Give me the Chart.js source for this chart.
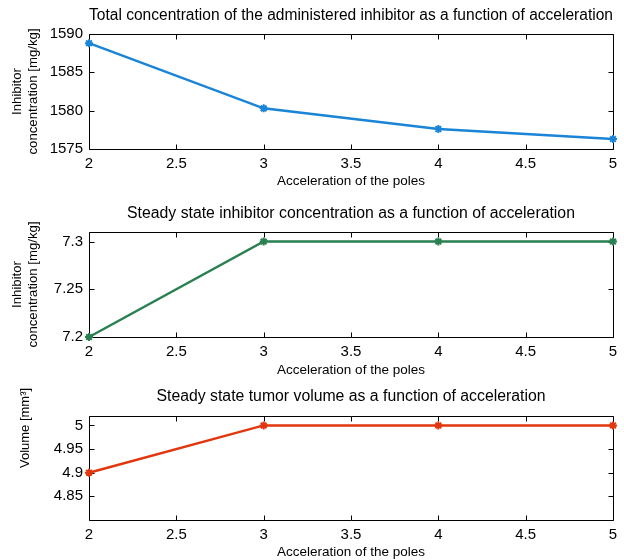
<!DOCTYPE html>
<html>
<head>
<meta charset="utf-8">
<script src="https://cdn.jsdelivr.net/npm/chart.js@4.4.1/dist/chart.umd.min.js"></script>
<style>
  html, body { margin: 0; padding: 0; background: #fff; }
  body { width: 624px; height: 560px; position: relative; overflow: hidden; }
  .wrap { position: absolute; left: 0; width: 624px; }
  canvas { display: block; }
</style>
</head>
<body>
<div class="wrap" id="w1" style="top:0px;height:195px"><canvas id="c1"></canvas></div>
<div class="wrap" id="w2" style="top:195px;height:185px"><canvas id="c2"></canvas></div>
<div class="wrap" id="w3" style="top:375px;height:185px"><canvas id="c3"></canvas></div>
<script>
// ---- Data ----
const acceleration = [2, 3, 4, 5];
const totalInhibitor = [1588.8, 1580.3, 1577.6, 1576.3];
const steadyInhibitor = [7.2, 7.3, 7.3, 7.3];
const steadyVolume = [4.9, 5.0, 5.0, 5.0];

const xTickValues = [2, 2.5, 3, 3.5, 4, 4.5, 5];
const yTicksTotal = [1575, 1580, 1585, 1590];
const yTicksSteady = [7.2, 7.25, 7.3];
const yTicksVolume = [4.85, 4.9, 4.95, 5];

const titles = [
  'Total concentration of the administered inhibitor as a function of acceleration',
  'Steady state inhibitor concentration as a function of acceleration',
  'Steady state tumor volume as a function of acceleration'
];
const xTitle = 'Acceleration of the poles';
const yTitles = [
  ['Inhibitor', 'concentration [mg/kg]'],
  ['Inhibitor', 'concentration [mg/kg]'],
  'Volume [mm\u00B3]'
];

const FONT = '"Liberation Sans", Arial, Helvetica, sans-serif';

// Box + inward ticks (MATLAB style)
const boxPlugin = {
  id: 'matlabBox',
  beforeDatasetsDraw(chart) {
    const { ctx, chartArea: a, scales: { x, y } } = chart;
    const L = Math.round(a.left) + 0.5, R = Math.round(a.right) + 0.5;
    const T = Math.round(a.top) + 0.5, B = Math.round(a.bottom) + 0.5;
    const len = 5;
    ctx.save();
    ctx.strokeStyle = '#000';
    ctx.lineWidth = 1;
    ctx.beginPath();
    ctx.rect(L, T, R - L, B - T);
    x.ticks.forEach(t => {
      const px = Math.round(x.getPixelForValue(t.value)) + 0.5;
      ctx.moveTo(px, B); ctx.lineTo(px, B - len);
      ctx.moveTo(px, T); ctx.lineTo(px, T + len);
    });
    y.ticks.forEach(t => {
      const py = Math.round(y.getPixelForValue(t.value)) + 0.5;
      ctx.moveTo(L, py); ctx.lineTo(L + len, py);
      ctx.moveTo(R, py); ctx.lineTo(R - len, py);
    });
    ctx.stroke();
    ctx.restore();
  }
};

// y-axis label placed near the top of the axis (as in the reference's third panel)
const topYLabelPlugin = {
  id: 'topYLabel',
  afterDraw(chart, args, opts) {
    if (!opts || !opts.text) return;
    const { ctx, chartArea: a } = chart;
    ctx.save();
    ctx.fillStyle = '#000';
    ctx.font = '13px ' + FONT;
    ctx.textAlign = 'center';
    ctx.textBaseline = 'middle';
    ctx.translate(opts.x, a.top + opts.dy);
    ctx.rotate(-Math.PI / 2);
    ctx.fillText(opts.text, 0, 0);
    ctx.restore();
  }
};

function makeChart(id, values, color, yMin, yMax, yTicks, cfg) {
  const canvasH = cfg.h;
  new Chart(document.getElementById(id), {
    type: 'line',
    data: {
      datasets: [{
        data: acceleration.map((a, i) => ({ x: a, y: values[i] })),
        borderColor: color,
        backgroundColor: color,
        borderWidth: 2.5,
        pointStyle: 'star',
        pointRadius: 4,
        pointBorderWidth: 2,
        pointBorderColor: color,
        pointHoverRadius: 4,
        tension: 0,
        clip: false
      }]
    },
    options: {
      responsive: true,
      maintainAspectRatio: false,
      animation: false,
      events: [],
      layout: { padding: { left: 0, right: 11, top: 0, bottom: 0 } },
      plugins: {
        legend: { display: false },
        tooltip: { enabled: false },
        title: {
          display: true,
          fullSize: false,
          text: cfg.title,
          color: '#000',
          font: { family: FONT, size: 15.8, weight: 'normal', lineHeight: 1.2 },
          padding: { top: cfg.titleTop, bottom: cfg.titleBottom }
        },
        topYLabel: cfg.customY || {}
      },
      scales: {
        x: {
          type: 'linear',
          min: 2, max: 5,
          grid: { display: false, drawTicks: false },
          border: { display: false },
          afterBuildTicks: s => { s.ticks = xTickValues.map(v => ({ value: v })); },
          afterFit: s => { s.height = canvasH - cfg.plotBottom; },
          ticks: {
            color: '#000',
            padding: cfg.xTickPad,
            maxRotation: 0,
            autoSkip: false,
            font: { family: FONT, size: 15 },
            callback: v => String(v)
          },
          title: {
            display: true,
            text: xTitle,
            color: '#000',
            font: { family: FONT, size: 13.5 },
            padding: { top: 0, bottom: cfg.xTitleBottom }
          }
        },
        y: {
          type: 'linear',
          min: yMin, max: yMax,
          grid: { display: false, drawTicks: false },
          border: { display: false },
          afterBuildTicks: s => { s.ticks = yTicks.map(v => ({ value: v })); },
          afterFit: s => { s.width = 89; },
          ticks: {
            color: '#000',
            padding: 6,
            autoSkip: false,
            font: { family: FONT, size: 15 },
            callback: v => String(+v.toFixed(3))
          },
          title: {
            display: !cfg.customY,
            text: cfg.yTitle,
            color: '#000',
            font: { family: FONT, size: 13.2 },
            padding: { top: cfg.yTitleTop, bottom: 0 }
          }
        }
      }
    },
    plugins: [boxPlugin, topYLabelPlugin]
  });
}

makeChart('c1', totalInhibitor, '#1a84d6', 1575, 1590, yTicksTotal, {
  h: 195, title: titles[0], titleTop: 6.5, titleBottom: 8.5, plotBottom: 149,
  xTickPad: 6, xTitleBottom: 5.5, yTitle: yTitles[0], yTitleTop: 9.5
});
makeChart('c2', steadyInhibitor, '#2a8050', 7.2, 7.31, yTicksSteady, {
  h: 185, title: titles[1], titleTop: 9.5, titleBottom: 8.5, plotBottom: 142,
  xTickPad: 6, xTitleBottom: 2, yTitle: yTitles[1], yTitleTop: 9.5
});
makeChart('c3', steadyVolume, '#e2360e', 4.8, 5.02, yTicksVolume, {
  h: 185, title: titles[2], titleTop: 12.5, titleBottom: 9.5, plotBottom: 145,
  xTickPad: 6, xTitleBottom: 0, yTitle: yTitles[2], yTitleTop: 16,
  customY: { text: yTitles[2], x: 25, dy: 12 }
});
</script>
</body>
</html>
